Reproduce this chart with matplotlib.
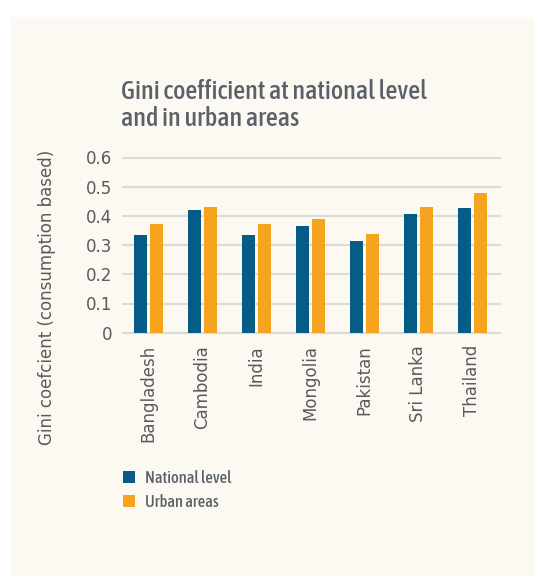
import numpy as np
import matplotlib
matplotlib.use("Agg")
import matplotlib.pyplot as plt
from matplotlib import font_manager as fm
from matplotlib.patches import Rectangle, Patch

# --- Data --------------------------------------------------------------------
countries = ["Bangladesh", "Cambodia", "India", "Mongolia",
             "Pakistan", "Sri Lanka", "Thailand"]
national = [0.335, 0.421, 0.335, 0.366, 0.314, 0.405, 0.426]
urban = [0.372, 0.430, 0.372, 0.388, 0.339, 0.430, 0.479]
yticks = [0, 0.1, 0.2, 0.3, 0.4, 0.5, 0.6]
ytick_labels = ["0", "0.1", "0.2", "0.3", "0.4", "0.5", "0.6"]
title_lines = ["Gini coefficient at national level", "and in urban areas"]
ylabel = "Gini coefcient (consumption based)"
series_names = ["National level", "Urban areas"]

NAVY = "#055c86"
ORANGE = "#f6a41f"
PANEL = "#fcf9f2"
GRID = "#dddbd5"
TEXT = "#5a5a5a"
TITLE = "#5b6169"


def narrow_font(weight=450):
    """Pick an installed condensed/narrow face, else plain DejaVu Sans."""
    def is_narrow(f):
        return (f.stretch in ("condensed", "semi-condensed", "extra-condensed")
                or "Narrow" in f.name or "Condensed" in f.name)
    cands = [f for f in fm.fontManager.ttflist
             if is_narrow(f) and f.style == "normal"]
    if not cands:
        return fm.FontProperties(family="DejaVu Sans")
    cands.sort(key=lambda f: (abs((f.weight if isinstance(f.weight, int) else 400) - weight),
                              f.name, f.fname))
    return fm.FontProperties(fname=cands[0].fname)


def fit_size(s, fp, target_px, renderer, fig):
    probe = fig.text(0, 0, s, fontproperties=fp, fontsize=12)
    w = probe.get_window_extent(renderer).width
    probe.remove()
    return 12 * target_px / w


W, H = 535, 576
fig = plt.figure(figsize=(W / 100, H / 100), dpi=100)
fig.patch.set_facecolor("white")
fig.patches.append(Rectangle((11 / W, 0), 1 - 11 / W, (H - 17) / H,
                             transform=fig.transFigure, facecolor=PANEL,
                             edgecolor="none", zorder=-10))

ax = fig.add_axes([123 / W, 1 - 332.7 / H, (500 - 123) / W, (332.7 - 157.5) / H])
ax.set_facecolor("none")

x = np.arange(len(countries))
bw = 0.24
off = 0.148
ax.bar(x - off, national, width=bw, color=NAVY, zorder=3)
ax.bar(x + off, urban, width=bw, color=ORANGE, zorder=3)

ax.set_xlim(-0.473, 6.515)
ax.set_ylim(0, 0.6)
ax.set_yticks(yticks)
ax.set_yticklabels(ytick_labels)
ax.set_xticks(x)
ax.set_xticklabels(countries, rotation=90, va="top", ha="center")
for s in ax.spines.values():
    s.set_visible(False)
ax.grid(axis="y", color=GRID, linewidth=1.5, zorder=0)
for gl in ax.get_ygridlines():
    gl.set_clip_on(False)
ax.tick_params(axis="both", length=0, labelsize=12, labelcolor=TEXT)
ax.tick_params(axis="y", pad=8)
ax.tick_params(axis="x", pad=9)

fig.text(47 / W, 1 - 297 / H, ylabel, rotation=90, ha="center", va="center",
         fontsize=12, color=TEXT)

renderer = fig.canvas.get_renderer()
nf = narrow_font(520)
title_size = fit_size(title_lines[0], nf, 306, renderer, fig)
fig.text(121 / W, 1 - 99 / H, title_lines[0], ha="left", va="baseline",
         fontproperties=nf, fontsize=title_size, color=TITLE)
fig.text(121 / W, 1 - 126 / H, title_lines[1], ha="left", va="baseline",
         fontproperties=nf, fontsize=title_size, color=TITLE)

# legend: "National level" is ~83 px wide, squares 12 px, rows 24 px apart
lf = narrow_font(520)
leg_size = fit_size(series_names[0], lf, 86, renderer, fig)
lf.set_size(leg_size)
em = leg_size * 100 / 72
handles = [Patch(facecolor=NAVY), Patch(facecolor=ORANGE)]
leg = fig.legend(handles, series_names, loc="upper left",
                 bbox_to_anchor=(122.5 / W, 1 - 470 / H), frameon=False,
                 handlelength=12.5 / em, handleheight=12.5 / em,
                 handletextpad=10 / em, labelspacing=7 / em,
                 borderpad=0, borderaxespad=0, prop=lf)
for t in leg.get_texts():
    t.set_color(TITLE)

fig.savefig("out.png", dpi=100, facecolor=fig.get_facecolor())
